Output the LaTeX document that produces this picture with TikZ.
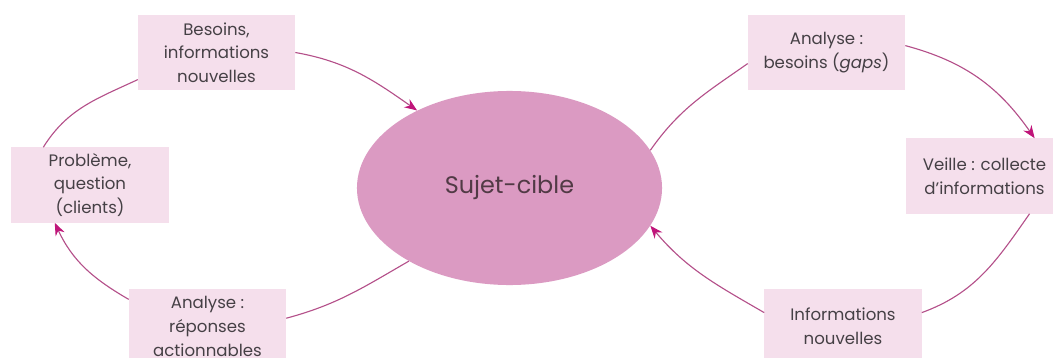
\documentclass[tikz,border=0pt]{standalone}
\usepackage{fontspec}
\setmainfont{Poppins}
\usetikzlibrary{arrows.meta,shapes.geometric}
\definecolor{boxpink}{HTML}{F5DFEC}
\definecolor{ovalpink}{HTML}{DB9AC2}
\definecolor{linepink}{HTML}{B4508A}
\definecolor{tippink}{HTML}{C0157A}
\definecolor{txtgrey}{HTML}{454045}
\tikzset{
  stage/.style={fill=boxpink, minimum width=3.925cm, minimum height=1.875cm, align=center,
                font=\fontsize{11.8}{16.8}\selectfont, text=txtgrey, inner sep=2pt},
  flow/.style={draw=linepink, line width=0.8pt},
  flowarrow/.style={flow, -{Stealth[length=9pt,width=7pt,color=tippink]}}
}
\begin{document}
\begin{tikzpicture}[x=0.025cm,y=0.025cm]
  \useasboundingbox (0,0) rectangle (1053,357);
  \clip (0,0) rectangle (1053,357);
  % centre
  \node[ellipse, fill=ovalpink, minimum width=7.625cm, minimum height=4.85cm, inner sep=0pt,
        font=\fontsize{17}{20}\selectfont, text=txtgrey!90!purple] (sujet) at (509.5,169) {Sujet-cible};
  % left loop
  \node[stage] (besoins) at (216.5,304.5) {Besoins,\\informations\\nouvelles};
  \node[stage] (probleme) at (90,172) {Problème,\\question\\(clients)};
  \node[stage] (reponses) at (207.5,30.5) {Analyse :\\réponses\\actionnables};
  % right loop
  \node[stage] (gaps) at (826.5,304.5) {Analyse :\\besoins (\textit{gaps})};
  \node[stage] (veille) at (984.5,181) {Veille : collecte\\d’informations};
  \node[stage] (infos) at (843,30.5) {Informations\\nouvelles};
  % connectors, left
  \draw[flowarrow] (besoins.east) to[out=-10, in=145] (sujet.140);
  \draw[flow] (probleme.141) to[out=58, in=205] (besoins.199);
  \draw[flowarrow] (reponses.161) to[out=150, in=-65] (probleme.227);
  \draw[flow] (sujet.216) to[out=210, in=15] (reponses.6);
  % connectors, right
  \draw[flow] (sujet.15) to[out=55, in=215] (gaps.188);
  \draw[flowarrow] (gaps.5) to[out=-15, in=125] (veille.37);
  \draw[flow] (veille.-40) to[out=-125, in=20] (infos.10);
  \draw[flowarrow] (infos.170) to[out=150, in=-50] (sujet.-15);
\end{tikzpicture}
\end{document}
